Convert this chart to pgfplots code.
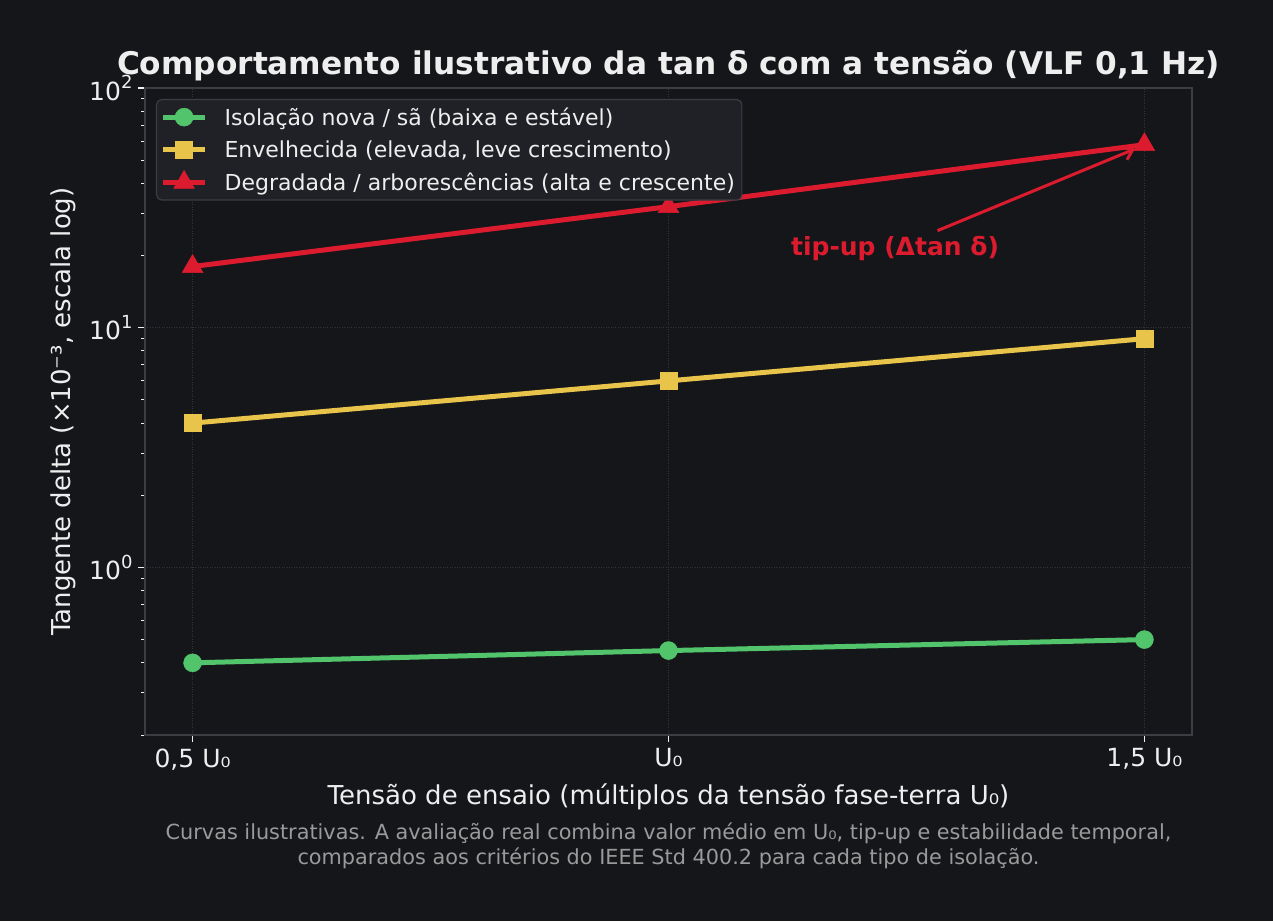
\documentclass[border=0pt]{standalone}
\usepackage{fontspec}
\setmainfont{DejaVu Sans}
\usepackage{pgfplots}
\pgfplotsset{compat=1.18}
\usetikzlibrary{arrows.meta}
\definecolor{bg}{HTML}{15161A}
\definecolor{framec}{HTML}{3C3D42}
\definecolor{legbg}{HTML}{202126}
\definecolor{cgreen}{HTML}{52C46C}
\definecolor{cyellow}{HTML}{E9C44A}
\definecolor{cred}{HTML}{DC1C2E}
\definecolor{txt}{HTML}{EEEEEE}
\definecolor{foot}{HTML}{9A9A9A}
\definecolor{gridc}{HTML}{33343A}
\begin{document}
\begin{tikzpicture}
\fill[bg] (-145pt,-186pt) rectangle (1128pt,735pt);
\begin{axis}[
  at={(0pt,0pt)}, anchor=south west,
  scale only axis, width=1047pt, height=647pt,
  xmin=0.45, xmax=1.55, ymode=log, ymin=0.2, ymax=100,
  axis line style={framec, line width=1.5pt},
  xtick={0.5,1,1.5}, xticklabels={{0,5 U₀},{U₀},{1,5 U₀}},
  minor xtick={},
  ytick={1,10,100},
  yticklabels={{10\raisebox{0.45em}{\fontsize{18}{18}\selectfont 0}},{10\raisebox{0.45em}{\fontsize{18}{18}\selectfont 1}},{10\raisebox{0.45em}{\fontsize{18}{18}\selectfont 2}}},
  minor ytick={0.2,0.3,0.4,0.5,0.6,0.7,0.8,0.9,2,3,4,5,6,7,8,9,20,30,40,50,60,70,80,90},
  tick pos=left, tick align=outside,
  major tick length=7pt, minor tick length=4pt,
  every tick/.style={txt!85, line width=1.2pt},
  every minor tick/.style={txt!85, line width=1pt},
  xmajorgrids, ymajorgrids,
  major grid style={gridc, dotted, line width=1.2pt},
  ticklabel style={font=\fontsize{25}{29}\selectfont, text=txt},
  xticklabel style={yshift=-3pt},
  yticklabel style={xshift=-2pt},
  legend style={at={(axis description cs:0.0105,0.983)}, anchor=north west,
    fill=legbg, draw=framec, line width=1.2pt, rounded corners=5pt, text=txt,
    font=\fontsize{22}{26}\selectfont, inner xsep=4pt, inner ysep=5pt,
    row sep=8pt, nodes={inner sep=3pt}},
  legend cell align=left,
  legend image code/.code={\draw[mark repeat=2,mark phase=2,#1] plot coordinates {(0pt,0pt)(21pt,0pt)(42pt,0pt)}; \path (56pt,0pt);},
  clip=false,
]
\addplot[cgreen, line width=5pt, mark=*, mark size=9pt, mark options={solid, line width=0.5pt}] coordinates {(0.5,0.4)(1,0.45)(1.5,0.5)};
\addlegendentry{Isolação nova / sã (baixa e estável)}
\addplot[cyellow, line width=5pt, mark=square*, mark size=8.5pt, mark options={solid, line width=0.5pt}] coordinates {(0.5,4)(1,6)(1.5,9)};
\addlegendentry{Envelhecida (elevada, leve crescimento)}
\addplot[cred, line width=5pt, mark=triangle*, mark size=12pt, mark options={solid, line width=0.5pt}] coordinates {(0.5,18)(1,32)(1.5,58)};
\addlegendentry{Degradada / arborescências (alta e crescente)}
\draw[cred, line width=3pt, -{Straight Barb[length=9pt,width=14pt]}] (axis cs:1.2826,25.4) -- (axis cs:1.49,55.7);
\node[text=cred, font=\bfseries\fontsize{25}{29}\selectfont] at (axis cs:1.238,21.3) {tip-up (Δtan δ)};
\end{axis}
\node[text=txt, font=\bfseries\fontsize{31.2}{37}\selectfont] at (523.5pt,669pt) {Comportamento ilustrativo da tan δ com a tensão (VLF 0,1 Hz)};
\node[text=txt, rotate=90, font=\fontsize{26}{31}\selectfont] at (-82pt,323.5pt) {Tangente delta (×10⁻³, escala log)};
\node[text=txt, font=\fontsize{26}{31}\selectfont] at (523.5pt,-62pt) {Tensão de ensaio (múltiplos da tensão fase-terra U₀)};
\node[text=foot, align=center, font=\fontsize{20.8}{25}\selectfont] at (523.5pt,-110.5pt) {Curvas ilustrativas. A avaliação real combina valor médio em U₀, tip-up e estabilidade temporal,\\comparados aos critérios do IEEE Std 400.2 para cada tipo de isolação.};
\pgfresetboundingbox
\useasboundingbox (-145pt,-186pt) rectangle (1128pt,735pt);
\end{tikzpicture}
\end{document}
